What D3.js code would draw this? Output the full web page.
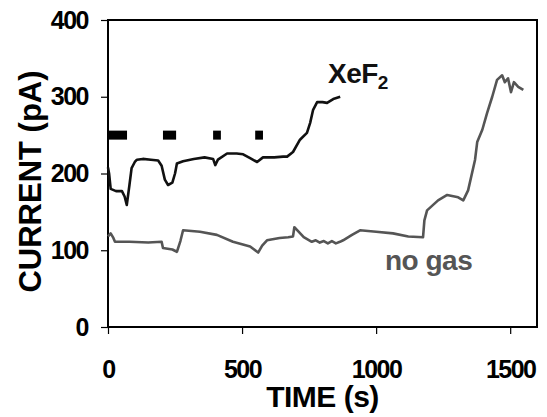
<!DOCTYPE html>
<html>
<head>
<meta charset="utf-8">
<script src="https://cdn.jsdelivr.net/npm/d3@7"></script>
<style>
  body { margin: 0; background: #fff; }
  svg { display: block; font-family: "Liberation Sans", Arial, sans-serif; }
</style>
</head>
<body>
<svg id="chart" width="547" height="417"></svg>
<script>
// time (s) / current (pA)
const xefTime = [0, 4, 10, 30, 52, 62, 70, 80, 88, 100, 108, 130, 160, 187, 200, 212, 224, 240, 250, 257, 280, 320, 360, 392, 400, 410, 444, 480, 504, 530, 556, 578, 620, 653, 668, 690, 716, 742, 754, 765, 780, 800, 817, 840, 866];
const xefCurrent = [208, 200, 180, 177, 177, 170, 159, 185, 207, 215, 218, 219, 218, 217, 210, 192, 185, 188, 200, 213, 216, 219, 221, 219, 211, 218, 226, 226, 225, 220, 215, 221, 221, 222, 222, 228, 244, 253, 266, 283, 293, 293, 292, 297, 300];

const gasTime = [0, 10, 20, 26, 80, 150, 200, 205, 240, 257, 270, 280, 343, 406, 466, 530, 560, 575, 593, 640, 672, 690, 695, 730, 760, 775, 790, 805, 820, 835, 850, 865, 877, 910, 940, 1000, 1063, 1120, 1175, 1180, 1190, 1231, 1265, 1306, 1325, 1343, 1369, 1377, 1396, 1414, 1433, 1451, 1470, 1480, 1492, 1503, 1514, 1530, 1549];
const gasCurrent = [118, 122, 116, 111, 111, 110, 111, 103, 101, 98, 112, 126, 124, 120, 111, 105, 97, 106, 113, 116, 117, 118, 130, 117, 111, 113, 110, 112, 109, 112, 109, 111, 113, 120, 126, 124, 122, 118, 117, 139, 152, 165, 172, 169, 165, 178, 218, 241, 257, 279, 300, 322, 328, 319, 324, 306, 319, 313, 309];

// gas pulse markers [start, end] in s, at 250 pA
const pulseStart = [0, 205, 392, 549];
const pulseEnd = [71, 254, 421, 578];
const pulseLevel = 250;

const xTicks = [0, 500, 1000, 1500];
const yTicks = [0, 100, 200, 300, 400];

const svg = d3.select('#chart');
const plotL = 108, plotR = 537, plotT = 20, plotB = 327;

const x = d3.scaleLinear().domain([0, 1600]).range([plotL, plotR]);
const y = d3.scaleLinear().domain([0, 400]).range([plotB, plotT]);

// frame
svg.append('rect')
  .attr('x', plotL).attr('y', plotT)
  .attr('width', plotR - plotL).attr('height', plotB - plotT)
  .attr('fill', 'none').attr('stroke', '#000').attr('stroke-width', 2);

// axes
const xAxis = svg.append('g')
  .attr('transform', `translate(0,${plotB})`)
  .call(d3.axisBottom(x).tickValues(xTicks).tickSize(7).tickPadding(26).tickFormat(d3.format('d')));
const yAxis = svg.append('g')
  .attr('transform', `translate(${plotL},0)`)
  .call(d3.axisLeft(y).tickValues(yTicks).tickSize(7).tickPadding(13).tickFormat(d3.format('d')));

[xAxis, yAxis].forEach(g => {
  g.select('.domain').remove();
  g.selectAll('.tick line').attr('stroke', '#000').attr('stroke-width', 1.2);
  g.selectAll('.tick text')
    .attr('fill', '#000')
    .style('font-size', '25px')
    .style('font-weight', 'bold')
    .style('letter-spacing', '-1.5px');
});

const line = d3.line().x(d => x(d[0])).y(d => y(d[1]));

// no gas series
svg.append('path')
  .datum(d3.zip(gasTime, gasCurrent))
  .attr('d', line)
  .attr('fill', 'none').attr('stroke', '#555').attr('stroke-width', 2.6)
  .attr('stroke-linejoin', 'round');

// XeF2 series
svg.append('path')
  .datum(d3.zip(xefTime, xefCurrent))
  .attr('d', line)
  .attr('fill', 'none').attr('stroke', '#111').attr('stroke-width', 2.6)
  .attr('stroke-linejoin', 'round');

// pulse markers
svg.append('g').selectAll('rect')
  .data(d3.zip(pulseStart, pulseEnd))
  .join('rect')
    .attr('x', d => x(d[0]))
    .attr('y', y(pulseLevel) - 4.5)
    .attr('width', d => x(d[1]) - x(d[0]))
    .attr('height', 9)
    .attr('fill', '#000');

// series labels
const xefLabel = svg.append('text')
  .attr('x', 328).attr('y', 83)
  .attr('fill', '#111')
  .style('font-size', '28px').style('font-weight', 'bold').style('letter-spacing', '-0.5px');
xefLabel.append('tspan').text('XeF');
xefLabel.append('tspan').attr('dy', 6).style('font-size', '19px').text('2');

svg.append('text')
  .attr('x', 385).attr('y', 270)
  .attr('fill', '#555')
  .style('font-size', '28px').style('font-weight', 'bold').style('letter-spacing', '-0.5px')
  .text('no gas');

// axis titles
svg.append('text')
  .attr('x', (plotL + plotR) / 2).attr('y', 407)
  .attr('text-anchor', 'middle')
  .style('font-size', '30px').style('font-weight', 'bold').style('letter-spacing', '-0.5px')
  .text('TIME (s)');

svg.append('text')
  .attr('transform', `translate(41,${(plotT + plotB) / 2 + 8}) rotate(-90)`)
  .attr('text-anchor', 'middle')
  .style('font-size', '31px').style('font-weight', 'bold')
  .text('CURRENT (pA)');
</script>
</body>
</html>
